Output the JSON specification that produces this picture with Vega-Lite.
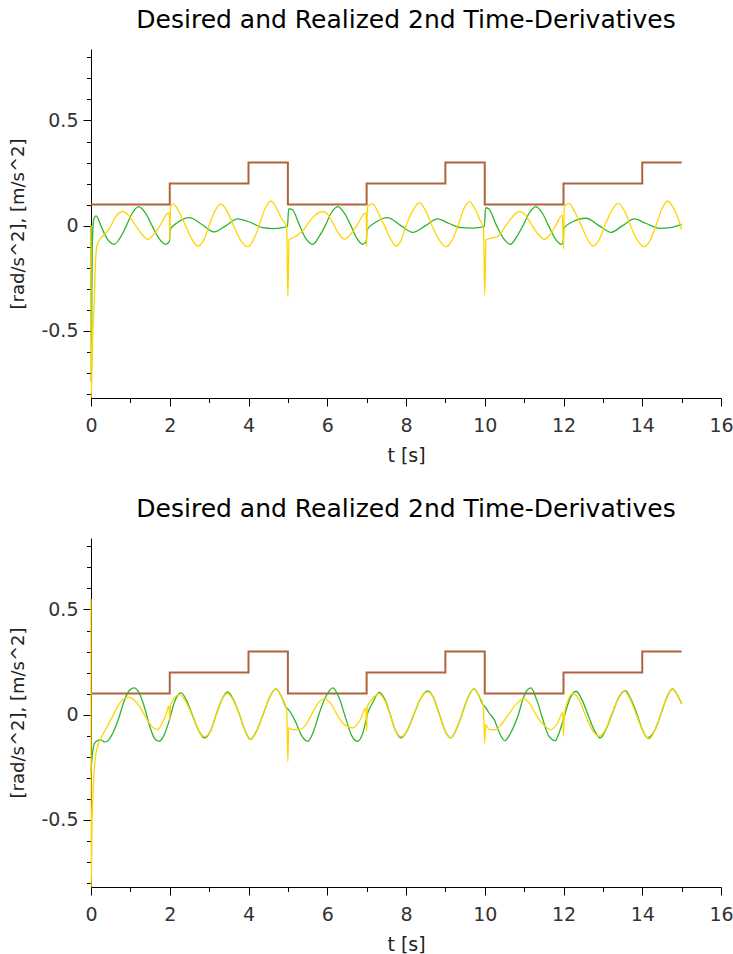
{
 "$schema": "https://vega.github.io/schema/vega-lite/v6.json",
 "background": "white",
 "padding": {"left": 9, "top": 8, "right": 0, "bottom": 0},
 "spacing": 32,
 "config": {"view": {"stroke": null}, "font": "DejaVu Sans"},
 "datasets": {
  "ref": [{"t":0,"v":0.1},{"t":2,"v":0.2},{"t":4,"v":0.3},{"t":5,"v":0.1},{"t":7,"v":0.2},{"t":9,"v":0.3},{"t":10,"v":0.1},{"t":12,"v":0.2},{"t":14,"v":0.3},{"t":15,"v":0.3}],
  "g1": [{"t":0,"v":0},{"t":0.005,"v":-0.74},{"t":0.03,"v":-0.12},{"t":0.07,"v":0.03},{"t":0.13,"v":0.046},{"t":0.25,"v":0.0},{"t":0.4,"v":-0.06},{"t":0.59,"v":-0.089},{"t":0.75,"v":-0.055},{"t":0.9,"v":0.0},{"t":1.05,"v":0.06},{"t":1.21,"v":0.09},{"t":1.38,"v":0.06},{"t":1.55,"v":0.0},{"t":1.72,"v":-0.06},{"t":1.9,"v":-0.089},{"t":1.99,"v":-0.075},{"t":2.01,"v":-0.02},{"t":2.2,"v":0.015},{"t":2.5,"v":0.038},{"t":2.82,"v":0.005},{"t":3.13,"v":-0.03},{"t":3.43,"v":0.0},{"t":3.72,"v":0.032},{"t":4.05,"v":0.015},{"t":4.36,"v":-0.01},{"t":4.6,"v":-0.014},{"t":4.9,"v":-0.008},{"t":4.99,"v":-0.003},{"t":5.02,"v":0.08},{"t":5.1,"v":0.078},{"t":5.3,"v":0.0},{"t":5.45,"v":-0.06},{"t":5.63,"v":-0.089},{"t":5.8,"v":-0.05},{"t":5.95,"v":0.0},{"t":6.1,"v":0.06},{"t":6.27,"v":0.09},{"t":6.43,"v":0.06},{"t":6.6,"v":0.0},{"t":6.75,"v":-0.06},{"t":6.9,"v":-0.089},{"t":6.99,"v":-0.075},{"t":7.01,"v":-0.02},{"t":7.2,"v":0.012},{"t":7.53,"v":0.038},{"t":7.87,"v":0.0},{"t":8.17,"v":-0.032},{"t":8.5,"v":0.0},{"t":8.8,"v":0.032},{"t":9.1,"v":0.01},{"t":9.4,"v":-0.01},{"t":9.7,"v":-0.012},{"t":9.99,"v":-0.005},{"t":10.02,"v":0.085},{"t":10.1,"v":0.08},{"t":10.3,"v":0.0},{"t":10.47,"v":-0.06},{"t":10.65,"v":-0.089},{"t":10.82,"v":-0.05},{"t":10.97,"v":0.0},{"t":11.13,"v":0.06},{"t":11.3,"v":0.09},{"t":11.46,"v":0.06},{"t":11.62,"v":0.0},{"t":11.78,"v":-0.06},{"t":11.94,"v":-0.089},{"t":11.99,"v":-0.08},{"t":12.01,"v":-0.013},{"t":12.2,"v":0.015},{"t":12.57,"v":0.035},{"t":12.9,"v":0.0},{"t":13.21,"v":-0.032},{"t":13.5,"v":0.0},{"t":13.8,"v":0.032},{"t":14.1,"v":0.01},{"t":14.44,"v":-0.013},{"t":14.7,"v":-0.01},{"t":15.0,"v":0.006}],
  "y1": [{"t":0,"v":0},{"t":0.005,"v":-0.82},{"t":0.04,"v":-0.55},{"t":0.085,"v":-0.35},{"t":0.12,"v":-0.15},{"t":0.16,"v":-0.09},{"t":0.25,"v":-0.06},{"t":0.35,"v":-0.04},{"t":0.47,"v":-0.013},{"t":0.63,"v":0.043},{"t":0.8,"v":0.067},{"t":0.95,"v":0.05},{"t":1.1,"v":0.01},{"t":1.27,"v":-0.036},{"t":1.44,"v":-0.065},{"t":1.6,"v":-0.04},{"t":1.75,"v":0.0},{"t":1.95,"v":0.058},{"t":1.99,"v":0.06},{"t":2.0,"v":-0.068},{"t":2.02,"v":0.09},{"t":2.09,"v":0.103},{"t":2.25,"v":0.06},{"t":2.4,"v":0.0},{"t":2.55,"v":-0.06},{"t":2.71,"v":-0.097},{"t":2.86,"v":-0.07},{"t":3.0,"v":0.0},{"t":3.15,"v":0.07},{"t":3.3,"v":0.103},{"t":3.45,"v":0.07},{"t":3.62,"v":0.0},{"t":3.8,"v":-0.07},{"t":3.98,"v":-0.1},{"t":4.12,"v":-0.07},{"t":4.27,"v":0.0},{"t":4.42,"v":0.08},{"t":4.57,"v":0.117},{"t":4.72,"v":0.08},{"t":4.85,"v":0.03},{"t":4.97,"v":-0.005},{"t":5.0,"v":-0.338},{"t":5.03,"v":-0.068},{"t":5.1,"v":-0.06},{"t":5.25,"v":-0.045},{"t":5.4,"v":-0.02},{"t":5.55,"v":0.02},{"t":5.7,"v":0.05},{"t":5.88,"v":0.067},{"t":6.03,"v":0.05},{"t":6.15,"v":0.01},{"t":6.3,"v":-0.04},{"t":6.43,"v":-0.065},{"t":6.6,"v":-0.04},{"t":6.75,"v":0.0},{"t":6.95,"v":0.058},{"t":6.99,"v":0.06},{"t":7.0,"v":-0.1},{"t":7.02,"v":0.09},{"t":7.15,"v":0.103},{"t":7.3,"v":0.06},{"t":7.45,"v":0.0},{"t":7.6,"v":-0.06},{"t":7.75,"v":-0.097},{"t":7.88,"v":-0.068},{"t":8.0,"v":0.0},{"t":8.17,"v":0.07},{"t":8.34,"v":0.109},{"t":8.5,"v":0.07},{"t":8.66,"v":0.0},{"t":8.85,"v":-0.07},{"t":9.02,"v":-0.1},{"t":9.17,"v":-0.07},{"t":9.32,"v":0.0},{"t":9.47,"v":0.08},{"t":9.61,"v":0.114},{"t":9.75,"v":0.08},{"t":9.87,"v":0.03},{"t":9.97,"v":-0.02},{"t":10.0,"v":-0.33},{"t":10.03,"v":-0.068},{"t":10.15,"v":-0.06},{"t":10.33,"v":-0.052},{"t":10.5,"v":-0.01},{"t":10.65,"v":0.03},{"t":10.88,"v":0.067},{"t":11.03,"v":0.05},{"t":11.17,"v":0.01},{"t":11.35,"v":-0.04},{"t":11.51,"v":-0.065},{"t":11.67,"v":-0.04},{"t":11.8,"v":0.0},{"t":11.97,"v":0.05},{"t":12.0,"v":-0.11},{"t":12.02,"v":0.09},{"t":12.14,"v":0.106},{"t":12.3,"v":0.06},{"t":12.45,"v":0.0},{"t":12.6,"v":-0.06},{"t":12.74,"v":-0.097},{"t":12.9,"v":-0.07},{"t":13.05,"v":0.0},{"t":13.22,"v":0.07},{"t":13.38,"v":0.106},{"t":13.55,"v":0.07},{"t":13.7,"v":0.0},{"t":13.88,"v":-0.07},{"t":14.05,"v":-0.1},{"t":14.2,"v":-0.07},{"t":14.35,"v":0.0},{"t":14.5,"v":0.08},{"t":14.65,"v":0.117},{"t":14.8,"v":0.08},{"t":14.92,"v":0.03},{"t":15.0,"v":-0.02}],
  "g2": [{"t":0,"v":-0.27},{"t":0.03,"v":-0.2},{"t":0.08,"v":-0.14},{"t":0.15,"v":-0.125},{"t":0.25,"v":-0.12},{"t":0.35,"v":-0.13},{"t":0.45,"v":-0.12},{"t":0.55,"v":-0.09},{"t":0.7,"v":-0.02},{"t":0.85,"v":0.07},{"t":1.0,"v":0.12},{"t":1.1,"v":0.127},{"t":1.2,"v":0.11},{"t":1.35,"v":0.04},{"t":1.5,"v":-0.06},{"t":1.62,"v":-0.115},{"t":1.73,"v":-0.127},{"t":1.85,"v":-0.1},{"t":2.0,"v":-0.02},{"t":2.12,"v":0.06},{"t":2.29,"v":0.103},{"t":2.42,"v":0.07},{"t":2.57,"v":0.0},{"t":2.72,"v":-0.07},{"t":2.88,"v":-0.111},{"t":3.03,"v":-0.08},{"t":3.18,"v":0.0},{"t":3.32,"v":0.07},{"t":3.47,"v":0.108},{"t":3.62,"v":0.07},{"t":3.77,"v":0.0},{"t":3.9,"v":-0.07},{"t":4.05,"v":-0.119},{"t":4.2,"v":-0.08},{"t":4.37,"v":0.0},{"t":4.53,"v":0.08},{"t":4.7,"v":0.122},{"t":4.85,"v":0.08},{"t":4.97,"v":0.03},{"t":5.0,"v":0.027},{"t":5.1,"v":0.0},{"t":5.21,"v":-0.04},{"t":5.35,"v":-0.1},{"t":5.51,"v":-0.127},{"t":5.65,"v":-0.08},{"t":5.8,"v":0.008},{"t":5.95,"v":0.08},{"t":6.14,"v":0.127},{"t":6.3,"v":0.08},{"t":6.48,"v":-0.024},{"t":6.62,"v":-0.1},{"t":6.77,"v":-0.127},{"t":6.9,"v":-0.09},{"t":7.03,"v":0.008},{"t":7.15,"v":0.056},{"t":7.32,"v":0.106},{"t":7.47,"v":0.07},{"t":7.6,"v":0.0},{"t":7.72,"v":-0.07},{"t":7.87,"v":-0.111},{"t":8.02,"v":-0.08},{"t":8.2,"v":0.0},{"t":8.38,"v":0.08},{"t":8.55,"v":0.113},{"t":8.7,"v":0.08},{"t":8.85,"v":0.0},{"t":9.0,"v":-0.08},{"t":9.14,"v":-0.111},{"t":9.3,"v":-0.06},{"t":9.42,"v":0.0},{"t":9.57,"v":0.08},{"t":9.73,"v":0.122},{"t":9.85,"v":0.09},{"t":9.96,"v":0.045},{"t":10.0,"v":0.04},{"t":10.1,"v":0.01},{"t":10.24,"v":-0.024},{"t":10.38,"v":-0.09},{"t":10.51,"v":-0.124},{"t":10.65,"v":-0.09},{"t":10.84,"v":-0.008},{"t":11.0,"v":0.09},{"t":11.17,"v":0.127},{"t":11.32,"v":0.07},{"t":11.47,"v":-0.02},{"t":11.62,"v":-0.1},{"t":11.79,"v":-0.124},{"t":11.9,"v":-0.08},{"t":12.02,"v":-0.008},{"t":12.15,"v":0.07},{"t":12.32,"v":0.111},{"t":12.47,"v":0.07},{"t":12.62,"v":0.0},{"t":12.77,"v":-0.07},{"t":12.93,"v":-0.111},{"t":13.08,"v":-0.07},{"t":13.23,"v":0.0},{"t":13.4,"v":0.08},{"t":13.57,"v":0.114},{"t":13.72,"v":0.07},{"t":13.87,"v":0.0},{"t":14.0,"v":-0.07},{"t":14.14,"v":-0.11},{"t":14.33,"v":-0.07},{"t":14.47,"v":0.0},{"t":14.62,"v":0.08},{"t":14.77,"v":0.122},{"t":14.9,"v":0.09},{"t":15.0,"v":0.052}],
  "y2": [{"t":0,"v":0.55},{"t":0.005,"v":-0.82},{"t":0.03,"v":-0.5},{"t":0.06,"v":-0.34},{"t":0.1,"v":-0.22},{"t":0.17,"v":-0.15},{"t":0.26,"v":-0.11},{"t":0.4,"v":-0.06},{"t":0.55,"v":-0.007},{"t":0.68,"v":0.04},{"t":0.8,"v":0.071},{"t":0.95,"v":0.083},{"t":1.1,"v":0.07},{"t":1.23,"v":0.04},{"t":1.35,"v":0.0},{"t":1.48,"v":-0.04},{"t":1.6,"v":-0.065},{"t":1.69,"v":-0.071},{"t":1.8,"v":-0.045},{"t":1.9,"v":0.0},{"t":1.98,"v":0.04},{"t":2.0,"v":-0.025},{"t":2.02,"v":0.045},{"t":2.1,"v":0.075},{"t":2.25,"v":0.095},{"t":2.4,"v":0.065},{"t":2.56,"v":0.0},{"t":2.72,"v":-0.07},{"t":2.88,"v":-0.105},{"t":3.03,"v":-0.08},{"t":3.18,"v":0.0},{"t":3.32,"v":0.07},{"t":3.46,"v":0.1},{"t":3.61,"v":0.07},{"t":3.77,"v":0.0},{"t":3.9,"v":-0.07},{"t":4.04,"v":-0.119},{"t":4.2,"v":-0.08},{"t":4.37,"v":0.0},{"t":4.53,"v":0.08},{"t":4.7,"v":0.122},{"t":4.85,"v":0.08},{"t":4.97,"v":0.024},{"t":5.0,"v":-0.222},{"t":5.02,"v":-0.063},{"t":5.12,"v":-0.071},{"t":5.3,"v":-0.071},{"t":5.45,"v":-0.05},{"t":5.6,"v":0.0},{"t":5.75,"v":0.05},{"t":5.93,"v":0.075},{"t":6.1,"v":0.05},{"t":6.25,"v":0.0},{"t":6.45,"v":-0.05},{"t":6.65,"v":-0.063},{"t":6.85,"v":-0.02},{"t":6.98,"v":0.032},{"t":7.0,"v":-0.08},{"t":7.02,"v":0.04},{"t":7.15,"v":0.075},{"t":7.3,"v":0.1},{"t":7.45,"v":0.07},{"t":7.6,"v":0.0},{"t":7.72,"v":-0.07},{"t":7.87,"v":-0.105},{"t":8.02,"v":-0.08},{"t":8.2,"v":0.0},{"t":8.38,"v":0.08},{"t":8.55,"v":0.108},{"t":8.7,"v":0.08},{"t":8.85,"v":0.0},{"t":9.0,"v":-0.08},{"t":9.14,"v":-0.111},{"t":9.3,"v":-0.06},{"t":9.42,"v":0.0},{"t":9.57,"v":0.08},{"t":9.73,"v":0.122},{"t":9.85,"v":0.09},{"t":9.96,"v":0.045},{"t":10.0,"v":-0.138},{"t":10.02,"v":-0.047},{"t":10.11,"v":-0.071},{"t":10.27,"v":-0.071},{"t":10.45,"v":-0.04},{"t":10.6,"v":0.0},{"t":10.8,"v":0.05},{"t":11.0,"v":0.075},{"t":11.15,"v":0.05},{"t":11.3,"v":0.0},{"t":11.5,"v":-0.05},{"t":11.68,"v":-0.071},{"t":11.85,"v":-0.04},{"t":11.98,"v":0.01},{"t":12.0,"v":-0.1},{"t":12.02,"v":0.0},{"t":12.1,"v":0.06},{"t":12.23,"v":0.1},{"t":12.4,"v":0.07},{"t":12.55,"v":0.0},{"t":12.72,"v":-0.07},{"t":12.91,"v":-0.103},{"t":13.07,"v":-0.07},{"t":13.22,"v":0.0},{"t":13.38,"v":0.07},{"t":13.55,"v":0.112},{"t":13.7,"v":0.07},{"t":13.85,"v":0.0},{"t":14.0,"v":-0.07},{"t":14.18,"v":-0.116},{"t":14.33,"v":-0.07},{"t":14.47,"v":0.0},{"t":14.62,"v":0.08},{"t":14.77,"v":0.122},{"t":14.9,"v":0.09},{"t":15.0,"v":0.052}]
 },
 "vconcat": [
  {
   "width": 630, "height": 349,
   "title": {"text": "Desired and Realized 2nd Time-Derivatives", "font": "DejaVu Sans", "fontSize": 25, "fontWeight": "normal", "color": "#000", "frame": "group", "anchor": "middle", "baseline": "alphabetic", "offset": -5},
   "encoding": {
    "x": {"field": "t", "type": "quantitative", "scale": {"domain": [0, 16], "nice": false, "zero": false},
     "axis": {"title": "t [s]", "values": [0,1,2,3,4,5,6,7,8,9,10,11,12,13,14,15,16], "labelExpr": "datum.value % 2 === 0 ? '' + datum.value : ''", "labelOverlap": false, "labelFlush": false, "labelFont": "DejaVu Sans", "labelFontSize": 19, "labelColor": "#333", "labelPadding": 10, "tickSize": {"condition": {"test": "datum.value % 2 === 0", "value": 8}, "value": 4.5}, "tickColor": "#000", "domainColor": "#000", "grid": false, "titleFont": "DejaVu Sans", "titleFontSize": 19, "titleFontWeight": "normal", "titleColor": "#222", "titlePadding": 11}},
    "y": {"field": "v", "type": "quantitative", "scale": {"domain": [-0.82, 0.84], "nice": false, "zero": false},
     "axis": {"title": "[rad/s^2], [m/s^2]", "values": [-0.8,-0.7,-0.6,-0.5,-0.4,-0.3,-0.2,-0.1,0,0.1,0.2,0.3,0.4,0.5,0.6,0.7,0.8], "labelExpr": "abs(round(datum.value*10)) % 5 === 0 ? '' + datum.value : ''", "labelOverlap": false, "labelFlush": false, "labelFont": "DejaVu Sans", "labelFontSize": 19, "labelColor": "#333", "labelPadding": 5, "tickSize": {"condition": {"test": "abs(round(datum.value*10)) % 5 === 0", "value": 8}, "value": 4.5}, "tickColor": "#000", "domainColor": "#000", "grid": false, "titleFont": "DejaVu Sans", "titleFontSize": 18, "titleFontWeight": "normal", "titleColor": "#222", "titlePadding": 13}}
   },
   "layer": [
    {"data": {"name": "ref"}, "mark": {"type": "line", "interpolate": "step-after", "color": "#b0643c", "strokeWidth": 2, "clip": false}},
    {"data": {"name": "g1"}, "mark": {"type": "line", "interpolate": "monotone", "color": "#2db52d", "strokeWidth": 1.3, "clip": false}},
    {"data": {"name": "y1"}, "mark": {"type": "line", "interpolate": "monotone", "color": "#ffd400", "strokeWidth": 1.3, "clip": false}}
   ]
  },
  {
   "width": 630, "height": 349,
   "title": {"text": "Desired and Realized 2nd Time-Derivatives", "font": "DejaVu Sans", "fontSize": 25, "fontWeight": "normal", "color": "#000", "frame": "group", "anchor": "middle", "baseline": "alphabetic", "offset": -5},
   "encoding": {
    "x": {"field": "t", "type": "quantitative", "scale": {"domain": [0, 16], "nice": false, "zero": false},
     "axis": {"title": "t [s]", "values": [0,1,2,3,4,5,6,7,8,9,10,11,12,13,14,15,16], "labelExpr": "datum.value % 2 === 0 ? '' + datum.value : ''", "labelOverlap": false, "labelFlush": false, "labelFont": "DejaVu Sans", "labelFontSize": 19, "labelColor": "#333", "labelPadding": 10, "tickSize": {"condition": {"test": "datum.value % 2 === 0", "value": 8}, "value": 4.5}, "tickColor": "#000", "domainColor": "#000", "grid": false, "titleFont": "DejaVu Sans", "titleFontSize": 19, "titleFontWeight": "normal", "titleColor": "#222", "titlePadding": 11}},
    "y": {"field": "v", "type": "quantitative", "scale": {"domain": [-0.82, 0.84], "nice": false, "zero": false},
     "axis": {"title": "[rad/s^2], [m/s^2]", "values": [-0.8,-0.7,-0.6,-0.5,-0.4,-0.3,-0.2,-0.1,0,0.1,0.2,0.3,0.4,0.5,0.6,0.7,0.8], "labelExpr": "abs(round(datum.value*10)) % 5 === 0 ? '' + datum.value : ''", "labelOverlap": false, "labelFlush": false, "labelFont": "DejaVu Sans", "labelFontSize": 19, "labelColor": "#333", "labelPadding": 5, "tickSize": {"condition": {"test": "abs(round(datum.value*10)) % 5 === 0", "value": 8}, "value": 4.5}, "tickColor": "#000", "domainColor": "#000", "grid": false, "titleFont": "DejaVu Sans", "titleFontSize": 18, "titleFontWeight": "normal", "titleColor": "#222", "titlePadding": 13}}
   },
   "layer": [
    {"data": {"name": "ref"}, "mark": {"type": "line", "interpolate": "step-after", "color": "#b0643c", "strokeWidth": 2, "clip": false}},
    {"data": {"name": "g2"}, "mark": {"type": "line", "interpolate": "monotone", "color": "#2db52d", "strokeWidth": 1.3, "clip": false}},
    {"data": {"name": "y2"}, "mark": {"type": "line", "interpolate": "monotone", "color": "#ffd400", "strokeWidth": 1.3, "clip": false}}
   ]
  }
 ]
}
